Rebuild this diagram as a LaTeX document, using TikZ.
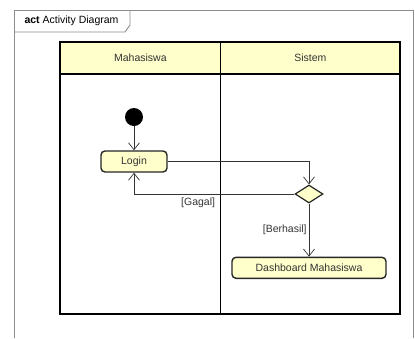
\documentclass[tikz,border=0pt]{standalone}
\usepackage{fontspec}
\setmainfont{Liberation Sans}
\usetikzlibrary{positioning,shapes.geometric,arrows.meta}
\definecolor{UMLYellow}{HTML}{FFFFCC}
\definecolor{FrameGray}{HTML}{8C8C8C}
\definecolor{TextGray}{HTML}{333333}

\begin{document}
\begin{tikzpicture}[x=1pt, y=-1pt,
    % Style khung va lane
    frameline/.style={draw=FrameGray, line width=0.9pt},
    laneline/.style={draw=black, line width=1.3pt},
    lanehead/.style={rectangle, draw=black, line width=1.3pt, fill=UMLYellow, text=TextGray, font=\fontsize{10.5}{12}\selectfont, minimum height=32pt, inner sep=0pt},
    % Style cac node
    action/.style={rectangle, rounded corners=4pt, draw=black!85, line width=1.4pt, fill=UMLYellow, text=TextGray, font=\fontsize{10.5}{12}\selectfont, minimum height=21pt, inner sep=0pt},
    startnode/.style={circle, fill=black, minimum size=18pt, inner sep=0pt},
    decision/.style={diamond, draw=black!85, line width=1.2pt, fill=UMLYellow, minimum width=28pt, minimum height=18pt, inner sep=0pt},
    % Style canh
    flow/.style={draw=TextGray, line width=0.7pt, -{Straight Barb[length=7pt,width=11pt]}},
    guard/.style={text=TextGray, font=\fontsize{10.5}{12}\selectfont, inner sep=2pt}
]
    \useasboundingbox (0,0) rectangle (415,338);

    % --- KHUNG ---
    \draw[frameline] (14,338) -- (14,10) -- (413,10) -- (413,338);
    \draw[frameline] (14,32) -- (125,32) -- (130,25) -- (130,10);
    \node[anchor=west, text=black, font=\fontsize{10.5}{12}\selectfont] (title) at (21,21) {\textbf{act} Activity Diagram};

    % --- LANE ---
    \node[lanehead, minimum width=160.7pt] (hmhs) at (140.35,58) {Mahasiswa};
    \node[lanehead, minimum width=179.3pt] (hsys) at (310.35,58) {Sistem};
    \draw[laneline] (60,74) rectangle (220.7,314);
    \draw[laneline] (220.7,74) rectangle (400,314);

    % --- NODE ---
    \node[startnode] (start) at (134,117) {};
    \node[action, minimum width=66pt] (login) at (134,161.5) {Login};
    \node[decision] (dec) at (309,194) {};
    \node[action, minimum width=154pt] (dash) at (309,267.8) {Dashboard Mahasiswa};

    % --- CANH ---
    \draw[flow] (start) -- (login);
    \draw[flow] (login.east) -| (dec.north);
    \draw[flow] (dec.west) -| node[guard, pos=0.24, anchor=north east, yshift=-2pt] {[Gagal]} (login.south);
    \draw[flow] (dec) -- node[guard, left] {[Berhasil]} (dash);

\end{tikzpicture}
\end{document}
